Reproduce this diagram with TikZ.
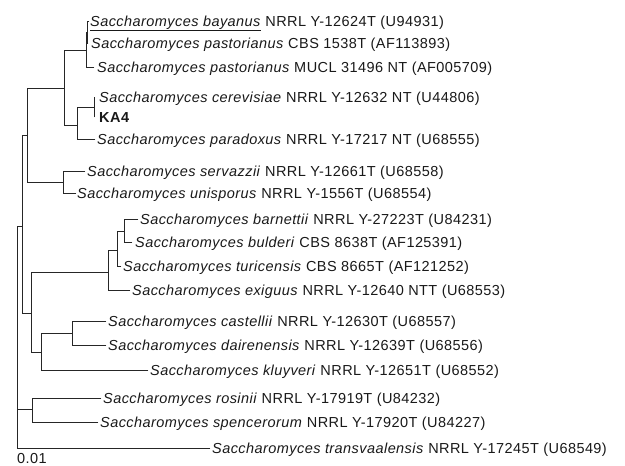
\documentclass[tikz,border=0pt]{standalone}
\usepackage{fontspec}
\setmainfont{Liberation Sans}[LetterSpace=3]
\begin{document}
\begin{tikzpicture}[x=1pt,y=-1pt,
  br/.style={line width=0.9pt, draw=black!85, line cap=rect},
  lab/.style={anchor=base west, inner sep=0pt, font=\fontsize{14.5}{16}\selectfont, text=black!90}]
\useasboundingbox (0,0) rectangle (625,466);
% internal nodes
\coordinate (root) at (17,226);
\coordinate (nMid) at (22,226);
\coordinate (nA)   at (27,135);
\coordinate (nTop) at (64,88);
\coordinate (nBay) at (86,50);
\coordinate (nBC)  at (87,32);
\coordinate (nPar) at (77,125);
\coordinate (nCer) at (94,107);
\coordinate (nServ) at (63,182);
\coordinate (nB)   at (31,313);
\coordinate (nEx)  at (108,272);
\coordinate (nTu)  at (117,250);
\coordinate (nBu)  at (124,231);
\coordinate (nK)   at (41,352);
\coordinate (nCD)  at (72,333);
\coordinate (nRS)  at (32,409);
% tips
\coordinate (t-bay)  at (89,21);
\coordinate (t-cbs)  at (88,43);
\coordinate (t-mucl) at (94,67);
\coordinate (t-cer)  at (94,97);
\coordinate (t-ka4)  at (94,117);
\coordinate (t-par)  at (95,139);
\coordinate (t-serv) at (85,171);
\coordinate (t-uni)  at (76,193);
\coordinate (t-bar)  at (138,219);
\coordinate (t-bul)  at (132,242);
\coordinate (t-tur)  at (121,266);
\coordinate (t-exi)  at (130,290);
\coordinate (t-cas)  at (106,321);
\coordinate (t-dai)  at (106,345);
\coordinate (t-klu)  at (148,370);
\coordinate (t-ros)  at (101,398);
\coordinate (t-spe)  at (98,422);
\coordinate (t-tra)  at (210,448);
% branches
\draw[br] (root) -- (nMid);
\draw[br] (root) |- (nRS);
\draw[br] (root) |- (t-tra);
\draw[br] (nMid) |- (nA);
\draw[br] (nMid) |- (nB);
\draw[br] (nA) |- (nTop);
\draw[br] (nA) |- (nServ);
\draw[br] (nTop) |- (nBay);
\draw[br] (nTop) |- (nPar);
\draw[br] (nBay) |- (nBC);
\draw[br] (nBay) |- (t-mucl);
\draw[br] (nBC) |- (t-bay);
\draw[br] (nBC) |- (t-cbs);
\draw[br] (nPar) |- (nCer);
\draw[br] (nPar) |- (t-par);
\draw[br] (nCer) -- (t-cer);
\draw[br] (nCer) -- (t-ka4);
\draw[br] (nServ) |- (t-serv);
\draw[br] (nServ) |- (t-uni);
\draw[br] (nB) |- (nEx);
\draw[br] (nB) |- (nK);
\draw[br] (nEx) |- (nTu);
\draw[br] (nEx) |- (t-exi);
\draw[br] (nTu) |- (nBu);
\draw[br] (nTu) |- (t-tur);
\draw[br] (nBu) |- (t-bar);
\draw[br] (nBu) |- (t-bul);
\draw[br] (nK) |- (nCD);
\draw[br] (nK) |- (t-klu);
\draw[br] (nCD) |- (t-cas);
\draw[br] (nCD) |- (t-dai);
\draw[br] (nRS) |- (t-ros);
\draw[br] (nRS) |- (t-spe);
% labels
\node[lab] (l-bay)  at (90,26)  {\underline{\textit{Saccharomyces bayanus}} NRRL Y-12624T (U94931)};
\node[lab] (l-cbs)  at (91,48)  {\textit{Saccharomyces pastorianus} CBS 1538T (AF113893)};
\node[lab] (l-mucl) at (97,72)  {\textit{Saccharomyces pastorianus} MUCL 31496 NT (AF005709)};
\node[lab] (l-cer)  at (99,102) {\textit{Saccharomyces cerevisiae} NRRL Y-12632 NT (U44806)};
\node[lab] (l-ka4)  at (99,122) {\textbf{KA4}};
\node[lab] (l-par)  at (97,144) {\textit{Saccharomyces paradoxus} NRRL Y-17217 NT (U68555)};
\node[lab] (l-serv) at (87,176) {\textit{Saccharomyces servazzii} NRRL Y-12661T (U68558)};
\node[lab] (l-uni)  at (77,198) {\textit{Saccharomyces unisporus} NRRL Y-1556T (U68554)};
\node[lab] (l-bar)  at (140,224) {\textit{Saccharomyces barnettii} NRRL Y-27223T (U84231)};
\node[lab] (l-bul)  at (135,247) {\textit{Saccharomyces bulderi} CBS 8638T (AF125391)};
\node[lab] (l-tur)  at (123,271) {\textit{Saccharomyces turicensis} CBS 8665T (AF121252)};
\node[lab] (l-exi)  at (132,295) {\textit{Saccharomyces exiguus} NRRL Y-12640 NTT (U68553)};
\node[lab] (l-cas)  at (108,326) {\textit{Saccharomyces castellii} NRRL Y-12630T (U68557)};
\node[lab] (l-dai)  at (108,350) {\textit{Saccharomyces dairenensis} NRRL Y-12639T (U68556)};
\node[lab] (l-klu)  at (150,375) {\textit{Saccharomyces kluyveri} NRRL Y-12651T (U68552)};
\node[lab] (l-ros)  at (103,403) {\textit{Saccharomyces rosinii} NRRL Y-17919T (U84232)};
\node[lab] (l-spe)  at (100,427) {\textit{Saccharomyces spencerorum} NRRL Y-17920T (U84227)};
\node[lab] (l-tra)  at (212,453) {\textit{Saccharomyces transvaalensis} NRRL Y-17245T (U68549)};
% scale bar
\coordinate (sb0) at (17,448);
\coordinate (sb1) at (50,448);
\draw[br] (sb0) -- (sb1);
\node[lab] (sblab) at (17,463) {0.01};
\end{tikzpicture}
\end{document}
